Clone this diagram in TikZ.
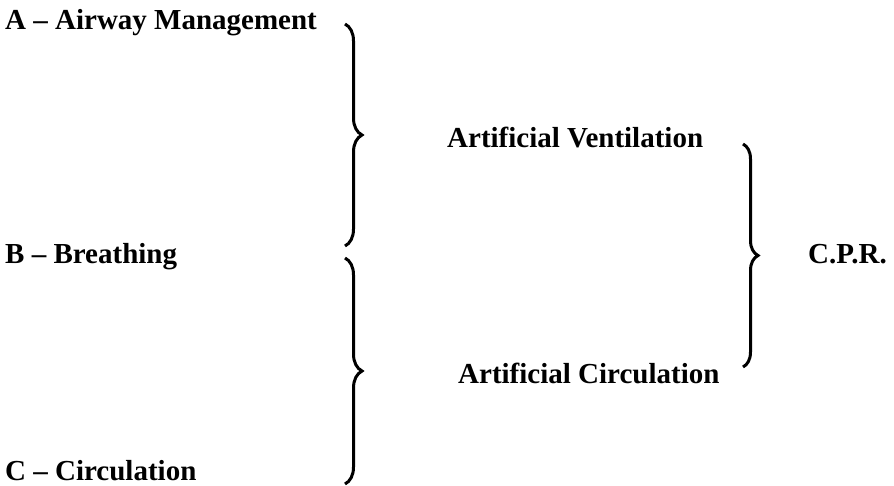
\documentclass[tikz,border=0pt]{standalone}
\usepackage{fontspec}
\setmainfont{Liberation Serif}
\usetikzlibrary{decorations.pathreplacing}

\begin{document}
\begin{tikzpicture}[x=1pt,y=-1pt,
  label/.style={anchor=base west, inner sep=0pt, font=\fontsize{29}{33}\selectfont\bfseries},
  bracket/.style={line width=3pt, decorate, decoration={brace, amplitude=#1}}]
  \useasboundingbox (0,0) rectangle (894,485);

  % Nodos
  \node[label] (a) at (5,29) {A -- Airway Management};
  \node[label] (b) at (5,263) {B -- Breathing};
  \node[label] (c) at (5,480) {C -- Circulation};
  \node[label] (v) at (447,147) {Artificial Ventilation};
  \node[label] (k) at (458,383) {Artificial Circulation};
  \node[label] (cpr) at (808,263) {C.P.R.};

  % Llaves
  \coordinate (t1) at (345,24);
  \coordinate (b1) at (345,246);
  \coordinate (t2) at (345,258);
  \coordinate (b2) at (345,484);
  \coordinate (t3) at (743,144);
  \coordinate (b3) at (743,367);

  \draw[bracket=17] (t1) -- (b1);
  \draw[bracket=17] (t2) -- (b2);
  \draw[bracket=15] (t3) -- (b3);
\end{tikzpicture}
\end{document}
